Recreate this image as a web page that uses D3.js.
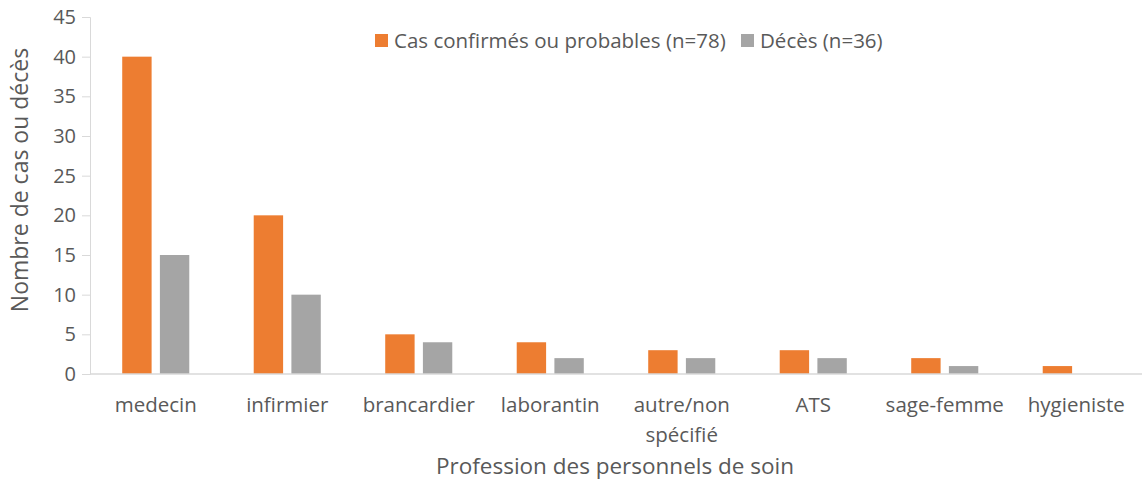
<!DOCTYPE html>
<html lang="fr">
<head>
  <meta charset="utf-8">
  <title>Personnels de soin</title>
  <script type="text/javascript" src="https://d3js.org/d3.v7.min.js"></script>
  <style type="text/css">
    body { margin: 0; background: #fff; }
    text { font-family: "Open Sans", Lato, sans-serif; fill: #595959; }
  </style>
</head>
<body>
  <div id="chart"></div>
  <script type="text/javascript">

    // categories and values
    const professions = [['medecin'], ['infirmier'], ['brancardier'], ['laborantin'],
      ['autre/non', 'spécifié'], ['ATS'], ['sage-femme'], ['hygieniste']]
    const cas = [40, 20, 5, 4, 3, 3, 2, 1]
    const deces = [15, 10, 4, 2, 2, 2, 1, 0]
    const seriesNames = ['Cas confirmés ou probables (n=78)', 'Décès (n=36)']
    const colors = ['#ED7D31', '#A5A5A5']
    const yTicks = [0, 5, 10, 15, 20, 25, 30, 35, 40, 45]

    const width = 1143, height = 487
    const margin = { left: 90, right: 1, top: 17, bottom: 113 }

    const svg = d3.select('#chart').append('svg')
      .attr('width', width).attr('height', height)

    const x = d3.scaleBand()
      .domain(d3.range(professions.length))
      .range([margin.left, width - margin.right])

    //two bars in the middle half of each band
    const x1 = d3.scaleBand()
      .domain([0, 1])
      .range([x.bandwidth() * 0.245, x.bandwidth() * 0.755])
      .paddingInner(0.22)

    const y = d3.scaleLinear()
      .domain([0, 45])
      .range([height - margin.bottom, margin.top])

    //y axis
    const yAxis = svg.append('g')
      .attr('transform', `translate(${margin.left},0)`)
      .call(d3.axisLeft(y).tickValues(yTicks).tickSize(8).tickPadding(6))
    yAxis.select('.domain').attr('stroke', '#d9d9d9')
    yAxis.selectAll('.tick line').attr('stroke', '#d9d9d9')
    yAxis.selectAll('.tick text').style('font-size', '20px').attr('fill', '#595959')

    //bars
    const series = [cas, deces]
    series.forEach((vals, s) => {
      svg.append('g').selectAll('rect')
        .data(vals)
        .enter()
        .append('rect')
        .attr('x', (d, i) => x(i) + x1(s))
        .attr('width', x1.bandwidth())
        .attr('y', d => y(d))
        .attr('height', d => y(0) - y(d))
        .attr('fill', colors[s])
    })

    //x axis baseline
    svg.append('line')
      .attr('x1', margin.left).attr('x2', width - margin.right)
      .attr('y1', y(0)).attr('y2', y(0))
      .attr('stroke', '#d9d9d9').attr('stroke-width', 1.5)

    //category labels
    const labels = svg.append('g').selectAll('text')
      .data(professions)
      .enter()
      .append('text')
      .attr('text-anchor', 'middle')
      .style('font-size', '20.5px')
    labels.each(function (lines, i) {
      d3.select(this).selectAll('tspan')
        .data(lines)
        .enter()
        .append('tspan')
        .attr('x', x(i) + x.bandwidth() / 2)
        .attr('y', (d, j) => 412 + j * 30)
        .text(d => d)
    })

    //axis titles
    svg.append('text')
      .attr('x', 615)
      .attr('y', 474)
      .attr('text-anchor', 'middle')
      .style('font-size', '22.5px')
      .text('Profession des personnels de soin')

    svg.append('text')
      .attr('transform', `translate(28,180) rotate(-90)`)
      .attr('text-anchor', 'middle')
      .style('font-size', '23px')
      .text('Nombre de cas ou décès')

    //legend
    const legend = svg.append('g')
    const legendX = [375, 741]
    seriesNames.forEach((name, s) => {
      legend.append('rect')
        .attr('x', legendX[s]).attr('y', 34)
        .attr('width', 13).attr('height', 13)
        .attr('fill', colors[s])
      legend.append('text')
        .attr('x', legendX[s] + 19).attr('y', 48)
        .style('font-size', '20.5px')
        .text(name)
    })

  </script>
</body>
</html>
